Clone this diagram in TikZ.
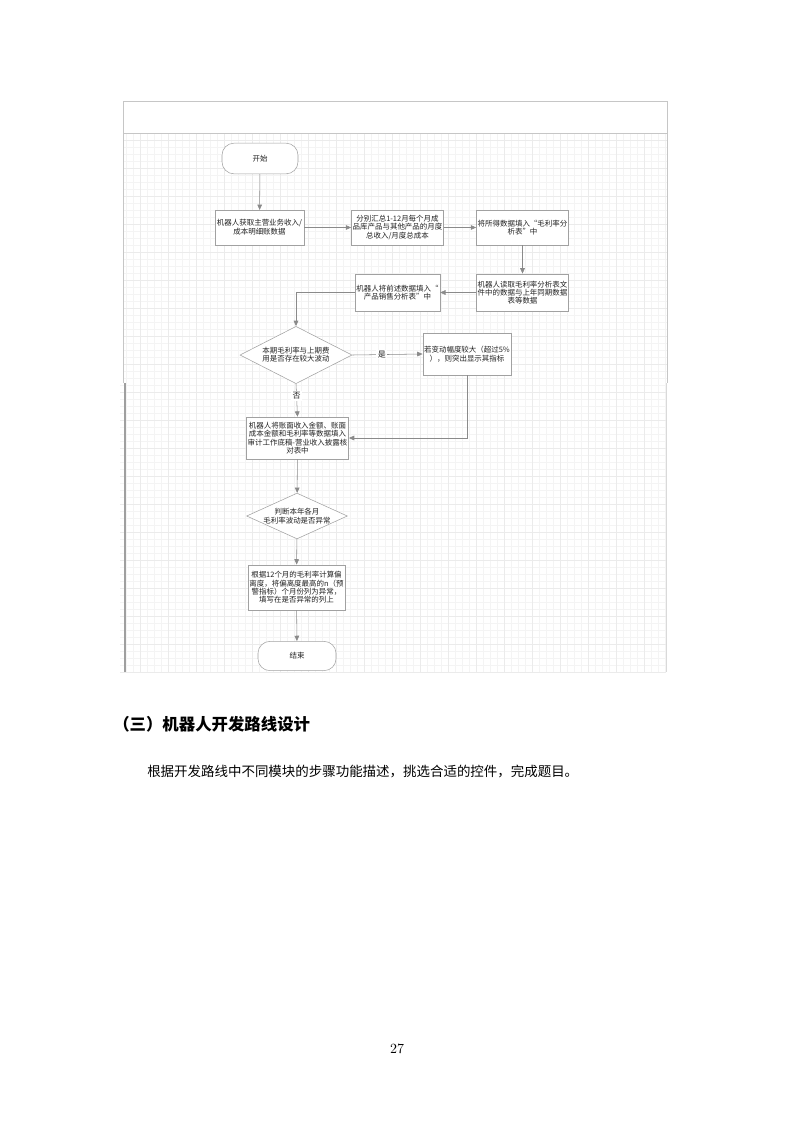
\documentclass[tikz,border=0pt]{standalone}
\usepackage{fontspec}
\usetikzlibrary{arrows.meta,shapes.geometric}
\newfontfamily\cjk{Noto Sans CJK SC}
\definecolor{linegray}{HTML}{8A8A8A}
\definecolor{textgray}{HTML}{222222}
\tikzset{
  stepbox/.style={draw=linegray!80, fill=white, text=textgray, align=center,
    font=\cjk\fontsize{5.6}{4.9}\selectfont, inner sep=1pt},
  termbox/.style={stepbox, rounded corners=9pt},
  decbox/.style={stepbox, shape=diamond, inner sep=0pt, shape aspect=2.2},
  flow/.style={draw=linegray, -{Triangle[length=4pt,width=3.5pt]}},
  lbl/.style={fill=white, text=textgray, inner sep=1pt, font=\cjk\fontsize{6}{6}\selectfont},
}
\begin{document}
\begin{tikzpicture}[x=0.75pt,y=-0.75pt]
\useasboundingbox (0,0) rectangle (793,1122);

% grid of the drawing sheet
\draw[gray!9, step=5.25pt] (123,133) grid (667,383);
\draw[gray!16, step=21pt] (123,133) grid (667,383);
\draw[gray!9, step=5.25pt] (120,383) grid (666,672);
\draw[gray!16, step=21pt] (120,383) grid (666,672);
\draw[gray!45] (123,383)--(123,101)--(667,101)--(667,383);
\draw[gray!45] (123,133)--(667,133);
\draw[gray!75, line width=1pt] (125,383)--(125,672);
\draw[gray!30] (666,383)--(666,672);

% flow chart
\node[termbox, minimum width=57pt, minimum height=23pt] (start) at (260,158.5) {开始};
\node[stepbox, minimum width=67pt, minimum height=26pt] (b1) at (259.5,227.5)
  {机器人获取主营业务收入/\\成本明细账数据};
\node[stepbox, minimum width=67pt, minimum height=26pt] (b2) at (397.5,227.5)
  {分别汇总1-12月每个月成\\品库产品与其他产品的月度\\总收入/月度总成本};
\node[stepbox, minimum width=67pt, minimum height=26pt] (b3) at (522.5,227.5)
  {将所得数据填入“毛利率分\\析表”中};
\node[stepbox, minimum width=67pt, minimum height=28pt] (b4) at (522.5,292.5)
  {机器人读取毛利率分析表文\\件中的数据与上年同期数据\\表等数据};
\node[stepbox, minimum width=62pt, minimum height=28pt] (b5) at (397.5,292.5)
  {机器人将前述数据填入“\\产品销售分析表”中};
\node[decbox, minimum width=84pt, minimum height=43pt] (d1) at (296,355)
  {本期毛利率与上期费\\用是否存在较大波动};
\node[stepbox, minimum width=66pt, minimum height=31.5pt] (b6) at (467,354)
  {若变动幅度较大（超过5\%\\），则突出显示其指标};
\node[stepbox, minimum width=74pt, minimum height=31.5pt] (b7) at (297.5,438)
  {机器人将账面收入金额、账面\\成本金额和毛利率等数据填入\\审计工作底稿-营业收入披露核\\对表中};
\node[decbox, minimum width=73.5pt, minimum height=34pt] (d2) at (297,516)
  {判断本年各月\\毛利率波动是否异常};
\node[stepbox, minimum width=68pt, minimum height=34pt] (b8) at (296.5,587.5)
  {根据12个月的毛利率计算偏\\离度，将偏离度最高的n（预\\警指标）个月份列为异常，\\填写在是否异常的列上};
\node[termbox, minimum width=58.5pt, minimum height=22pt] (end) at (297,656) {结束};

\draw[flow] (start) -- (b1);
\draw[flow] (b1) -- (b2);
\draw[flow] (b2) -- (b3);
\draw[flow] (b3) -- (b4);
\draw[flow] (b4) -- (b5);
\draw[flow] (b5.west) -| (d1.north);
\draw[flow] (d1.east) -- node[lbl, pos=0.42] {是} (b6.west);
\draw[flow] (d1.south) -- node[lbl, pos=0.36] {否} (b7.north);
\draw[flow] (b6.south) |- (b7.east);
\draw[flow] (b7) -- (d2);
\draw[flow] (d2) -- (b8);
\draw[flow] (b8) -- (end);

% text of the page
\node[anchor=west, inner sep=0pt, font=\cjk\bfseries\fontsize{12.3}{14}\selectfont] (title) at (113,724)
  {（三）机器人开发路线设计};
\node[anchor=west, inner sep=0pt, font=\cjk\fontsize{10.1}{12}\selectfont] (task) at (147,771)
  {根据开发路线中不同模块的步骤功能描述，挑选合适的控件，完成题目。};
\node[inner sep=0pt, font=\fontsize{10.5}{12}\selectfont] (page) at (397,1049) {27};
\end{tikzpicture}
\end{document}
